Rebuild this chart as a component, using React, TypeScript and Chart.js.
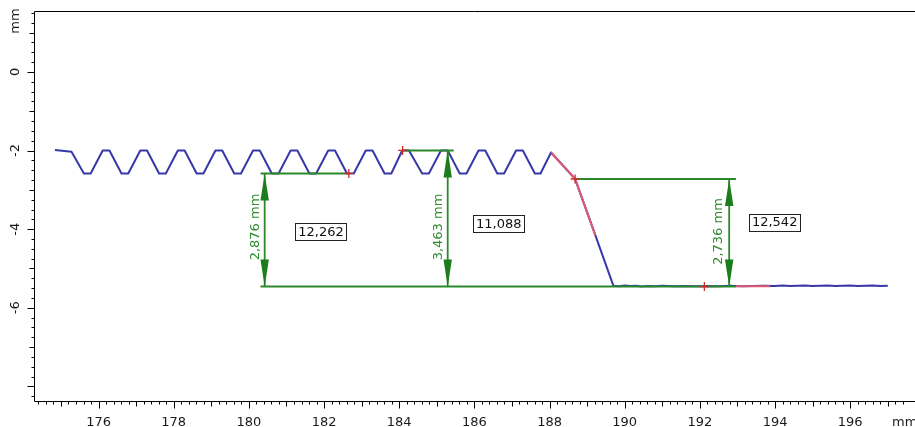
import React, { useEffect, useRef } from 'react';
import { Chart, registerables } from 'chart.js';

Chart.register(...registerables);

// ---------- data ----------
const profileX = [
  174.84, 175.28, 175.61, 175.79,
  176.11, 176.29, 176.61, 176.79,
  177.11, 177.29, 177.61, 177.79,
  178.11, 178.29, 178.61, 178.79,
  179.11, 179.29, 179.61, 179.79,
  180.11, 180.29, 180.61, 180.79,
  181.11, 181.29, 181.61, 181.79,
  182.11, 182.29, 182.61, 182.79,
  183.11, 183.29, 183.61, 183.79,
  184.08, 184.26, 184.61, 184.79,
  185.11, 185.29, 185.61, 185.79,
  186.11, 186.29, 186.61, 186.79,
  187.11, 187.29, 187.61, 187.76,
  188.04, 188.68, 189.22, 189.7,
  189.85, 190.0, 190.15, 190.3, 190.45, 190.6, 190.8, 191.0, 191.3, 191.6,
  191.9, 192.2, 192.5, 192.8, 193.1, 193.4, 193.7, 194.0, 194.2, 194.4,
  194.6, 194.8, 195.0, 195.2, 195.4, 195.6, 195.8, 196.0, 196.2, 196.4,
  196.6, 196.8, 197.0,
];
const profileY = [
  -1.99, -2.03, -2.585, -2.585,
  -2.0, -2.0, -2.585, -2.585,
  -2.0, -2.0, -2.585, -2.585,
  -2.0, -2.0, -2.585, -2.585,
  -2.0, -2.0, -2.585, -2.585,
  -2.0, -2.0, -2.585, -2.585,
  -2.0, -2.0, -2.585, -2.585,
  -2.0, -2.0, -2.585, -2.585,
  -2.0, -2.0, -2.585, -2.585,
  -2.0, -2.0, -2.585, -2.585,
  -2.0, -2.0, -2.585, -2.585,
  -2.0, -2.0, -2.585, -2.585,
  -2.0, -2.0, -2.585, -2.585,
  -2.05, -2.72, -4.16, -5.44,
  -5.45, -5.43, -5.445, -5.44, -5.455, -5.445, -5.45, -5.44, -5.45, -5.445,
  -5.45, -5.445, -5.45, -5.44, -5.45, -5.445, -5.44, -5.445, -5.435, -5.445,
  -5.44, -5.435, -5.445, -5.44, -5.435, -5.445, -5.44, -5.435, -5.445, -5.44,
  -5.435, -5.445, -5.44,
];

// fitted (red) segments of the profile
const fitStepX = [188.04, 188.68, 189.22];
const fitStepY = [-2.05, -2.72, -4.16];
const fitBaseX = [192.96, 193.87];
const fitBaseY = [-5.45, -5.45];

// red "+" markers
const crossX = [182.66, 184.09, 188.68, 192.12];
const crossY = [-2.584, -1.997, -2.724, -5.46];

// measurements (vertical dimension arrows)
const measX = [180.42, 185.29, 192.78];
const measTop = [-2.584, -1.997, -2.724];
const measBottom = [-5.46, -5.46, -5.46];
const measText = ['2,876 mm', '3,463 mm', '2,736 mm'];
const measTextX = [180.17, 185.06, 192.5];
const measTextY = [-3.945, -3.945, -4.06];

// horizontal reference lines of the measurements
const refLineX1 = [180.31, 184.09, 188.68, 180.31];
const refLineX2 = [182.66, 185.45, 192.96, 192.96];
const refLineY = [-2.584, -1.997, -2.724, -5.46];

// boxed values
const boxText = ['12,262', '11,088', '12,542'];
const boxX = [181.92, 186.65, 193.99];
const boxY = [-4.05, -3.85, -3.82];

// axes
const xTickLabels = [176, 178, 180, 182, 184, 186, 188, 190, 192, 194, 196];
const yTickLabels = [0, -2, -4, -6];

const X_MIN = 174.282;
const X_MAX = 197.57;
const Y_MIN = -8.369;
const Y_MAX = 1.547;

const BLUE = '#3838a8';
const RED = '#dd5a72';
const GREEN = '#2a8a2a';
const FONT = '"DejaVu Sans", Verdana, sans-serif';

const pts = (xs: number[], ys: number[]) => xs.map((x, i) => ({ x, y: ys[i] }));

const decorPlugin = {
  id: 'decor',
  afterDatasetsDraw(chart: any) {
    const ctx: CanvasRenderingContext2D = chart.ctx;
    const xs = chart.scales.x;
    const ys = chart.scales.y;
    const a = chart.chartArea;
    ctx.save();

    // measurement arrows
    ctx.strokeStyle = GREEN;
    ctx.fillStyle = '#1b7d1b';
    ctx.lineWidth = 1.8;
    for (let i = 0; i < measX.length; i++) {
      const px = xs.getPixelForValue(measX[i]);
      const yt = ys.getPixelForValue(measTop[i]);
      const yb = ys.getPixelForValue(measBottom[i]);
      ctx.beginPath();
      ctx.moveTo(px, yt);
      ctx.lineTo(px, yb);
      ctx.stroke();
      const L = 27;
      const W = 4.2;
      ctx.beginPath();
      ctx.moveTo(px, yt);
      ctx.lineTo(px - W, yt + L);
      ctx.lineTo(px + W, yt + L);
      ctx.closePath();
      ctx.fill();
      ctx.beginPath();
      ctx.moveTo(px, yb);
      ctx.lineTo(px - W, yb - L);
      ctx.lineTo(px + W, yb - L);
      ctx.closePath();
      ctx.fill();

      // rotated text
      const tx = xs.getPixelForValue(measTextX[i]);
      const ty = ys.getPixelForValue(measTextY[i]);
      ctx.save();
      ctx.translate(tx, ty);
      ctx.rotate(-Math.PI / 2);
      ctx.fillStyle = '#2e8b2e';
      ctx.font = `13px ${FONT}`;
      ctx.textAlign = 'center';
      ctx.textBaseline = 'middle';
      ctx.fillText(measText[i], 0, 0);
      ctx.restore();
    }

    // boxed values
    ctx.font = `13px ${FONT}`;
    ctx.textAlign = 'center';
    ctx.textBaseline = 'middle';
    for (let i = 0; i < boxText.length; i++) {
      const bx = xs.getPixelForValue(boxX[i]);
      const by = ys.getPixelForValue(boxY[i]);
      const w = ctx.measureText(boxText[i]).width + 6;
      const h = 17;
      ctx.fillStyle = '#ffffff';
      ctx.fillRect(Math.round(bx - w / 2) + 0.5, Math.round(by - h / 2) + 0.5, Math.round(w), h);
      ctx.strokeStyle = '#222';
      ctx.lineWidth = 1;
      ctx.strokeRect(Math.round(bx - w / 2) + 0.5, Math.round(by - h / 2) + 0.5, Math.round(w), h);
      ctx.fillStyle = '#111';
      ctx.fillText(boxText[i], bx, by + 1);
    }

    // axes frame
    ctx.strokeStyle = '#000';
    ctx.lineWidth = 1;
    const L0 = Math.round(a.left) + 0.5;
    const T0 = Math.round(a.top) + 0.5;
    const B0 = Math.round(a.bottom) + 0.5;
    ctx.beginPath();
    ctx.moveTo(chart.width, T0);
    ctx.lineTo(L0, T0);
    ctx.lineTo(L0, B0);
    ctx.lineTo(chart.width, B0);
    ctx.stroke();

    // x ticks (0.2 minor, odd integers medium, even integers major)
    ctx.beginPath();
    for (let k = Math.ceil(X_MIN * 5); k <= Math.floor(X_MAX * 5); k++) {
      const v = k / 5;
      const px = Math.round(xs.getPixelForValue(v)) + 0.5;
      let len = 3;
      if (k % 10 === 0) len = 7;
      else if (k % 5 === 0) len = 5;
      ctx.moveTo(px, B0);
      ctx.lineTo(px, B0 + len);
    }
    // y ticks (0.25 minor, odd integers medium, even integers major)
    for (let k = Math.ceil(Y_MIN * 4); k <= Math.floor(Y_MAX * 4); k++) {
      const v = k / 4;
      const py = Math.round(ys.getPixelForValue(v)) + 0.5;
      let len = 3;
      if (k % 8 === 0) len = 7;
      else if (k % 4 === 0) len = 5;
      ctx.moveTo(L0, py);
      ctx.lineTo(L0 - len, py);
    }
    ctx.stroke();

    // x labels
    ctx.fillStyle = '#1a1a1a';
    ctx.font = `13px ${FONT}`;
    ctx.textAlign = 'center';
    ctx.textBaseline = 'alphabetic';
    for (const v of xTickLabels) {
      ctx.fillText(String(v), xs.getPixelForValue(v), 426);
    }
    ctx.textAlign = 'left';
    ctx.fillText('mm', 892, 426);

    // y labels (rotated)
    const yLab = (txt: string, py: number) => {
      ctx.save();
      ctx.translate(19, py);
      ctx.rotate(-Math.PI / 2);
      ctx.textAlign = 'center';
      ctx.textBaseline = 'alphabetic';
      ctx.fillText(txt, 0, 0);
      ctx.restore();
    };
    for (const v of yTickLabels) yLab(String(v), ys.getPixelForValue(v));
    yLab('mm', 21);

    ctx.restore();
  },
};

export default function App() {
  const ref = useRef<HTMLCanvasElement | null>(null);
  useEffect(() => {
    if (!ref.current) return;
    const datasets: any[] = [];
    datasets.push({
      data: pts(crossX, crossY),
      showLine: false,
      pointStyle: 'cross',
      pointRadius: 4.5,
      pointBorderColor: '#d42a2a',
      pointBorderWidth: 1.3,
      order: 0,
    });
    for (let i = 0; i < refLineY.length; i++) {
      datasets.push({
        data: [
          { x: refLineX1[i], y: refLineY[i] },
          { x: refLineX2[i], y: refLineY[i] },
        ],
        borderColor: GREEN,
        borderWidth: 2,
        pointRadius: 0,
        order: 1,
      });
    }
    datasets.push({
      data: pts(fitStepX, fitStepY),
      borderColor: RED,
      borderWidth: 2,
      pointRadius: 0,
      order: 2,
    });
    datasets.push({
      data: pts(fitBaseX, fitBaseY),
      borderColor: RED,
      borderWidth: 2,
      pointRadius: 0,
      order: 2,
    });
    datasets.push({
      data: pts(profileX, profileY),
      borderColor: BLUE,
      borderWidth: 2,
      pointRadius: 0,
      borderJoinStyle: 'round',
      order: 3,
    });

    const chart = new Chart(ref.current, {
      type: 'line',
      data: { datasets },
      options: {
        responsive: false,
        animation: false,
        events: [],
        layout: { padding: { left: 34, top: 11, right: 0, bottom: 26 } },
        plugins: { legend: { display: false }, tooltip: { enabled: false } },
        scales: {
          x: { type: 'linear', display: false, min: X_MIN, max: X_MAX },
          y: { type: 'linear', display: false, min: Y_MIN, max: Y_MAX },
        },
      },
      plugins: [decorPlugin],
    });
    return () => chart.destroy();
  }, []);

  return (
    <div style={{ position: 'absolute', left: 0, top: 0, width: 915, height: 427, background: '#fff' }}>
      <canvas ref={ref} width={915} height={427} />
    </div>
  );
}
